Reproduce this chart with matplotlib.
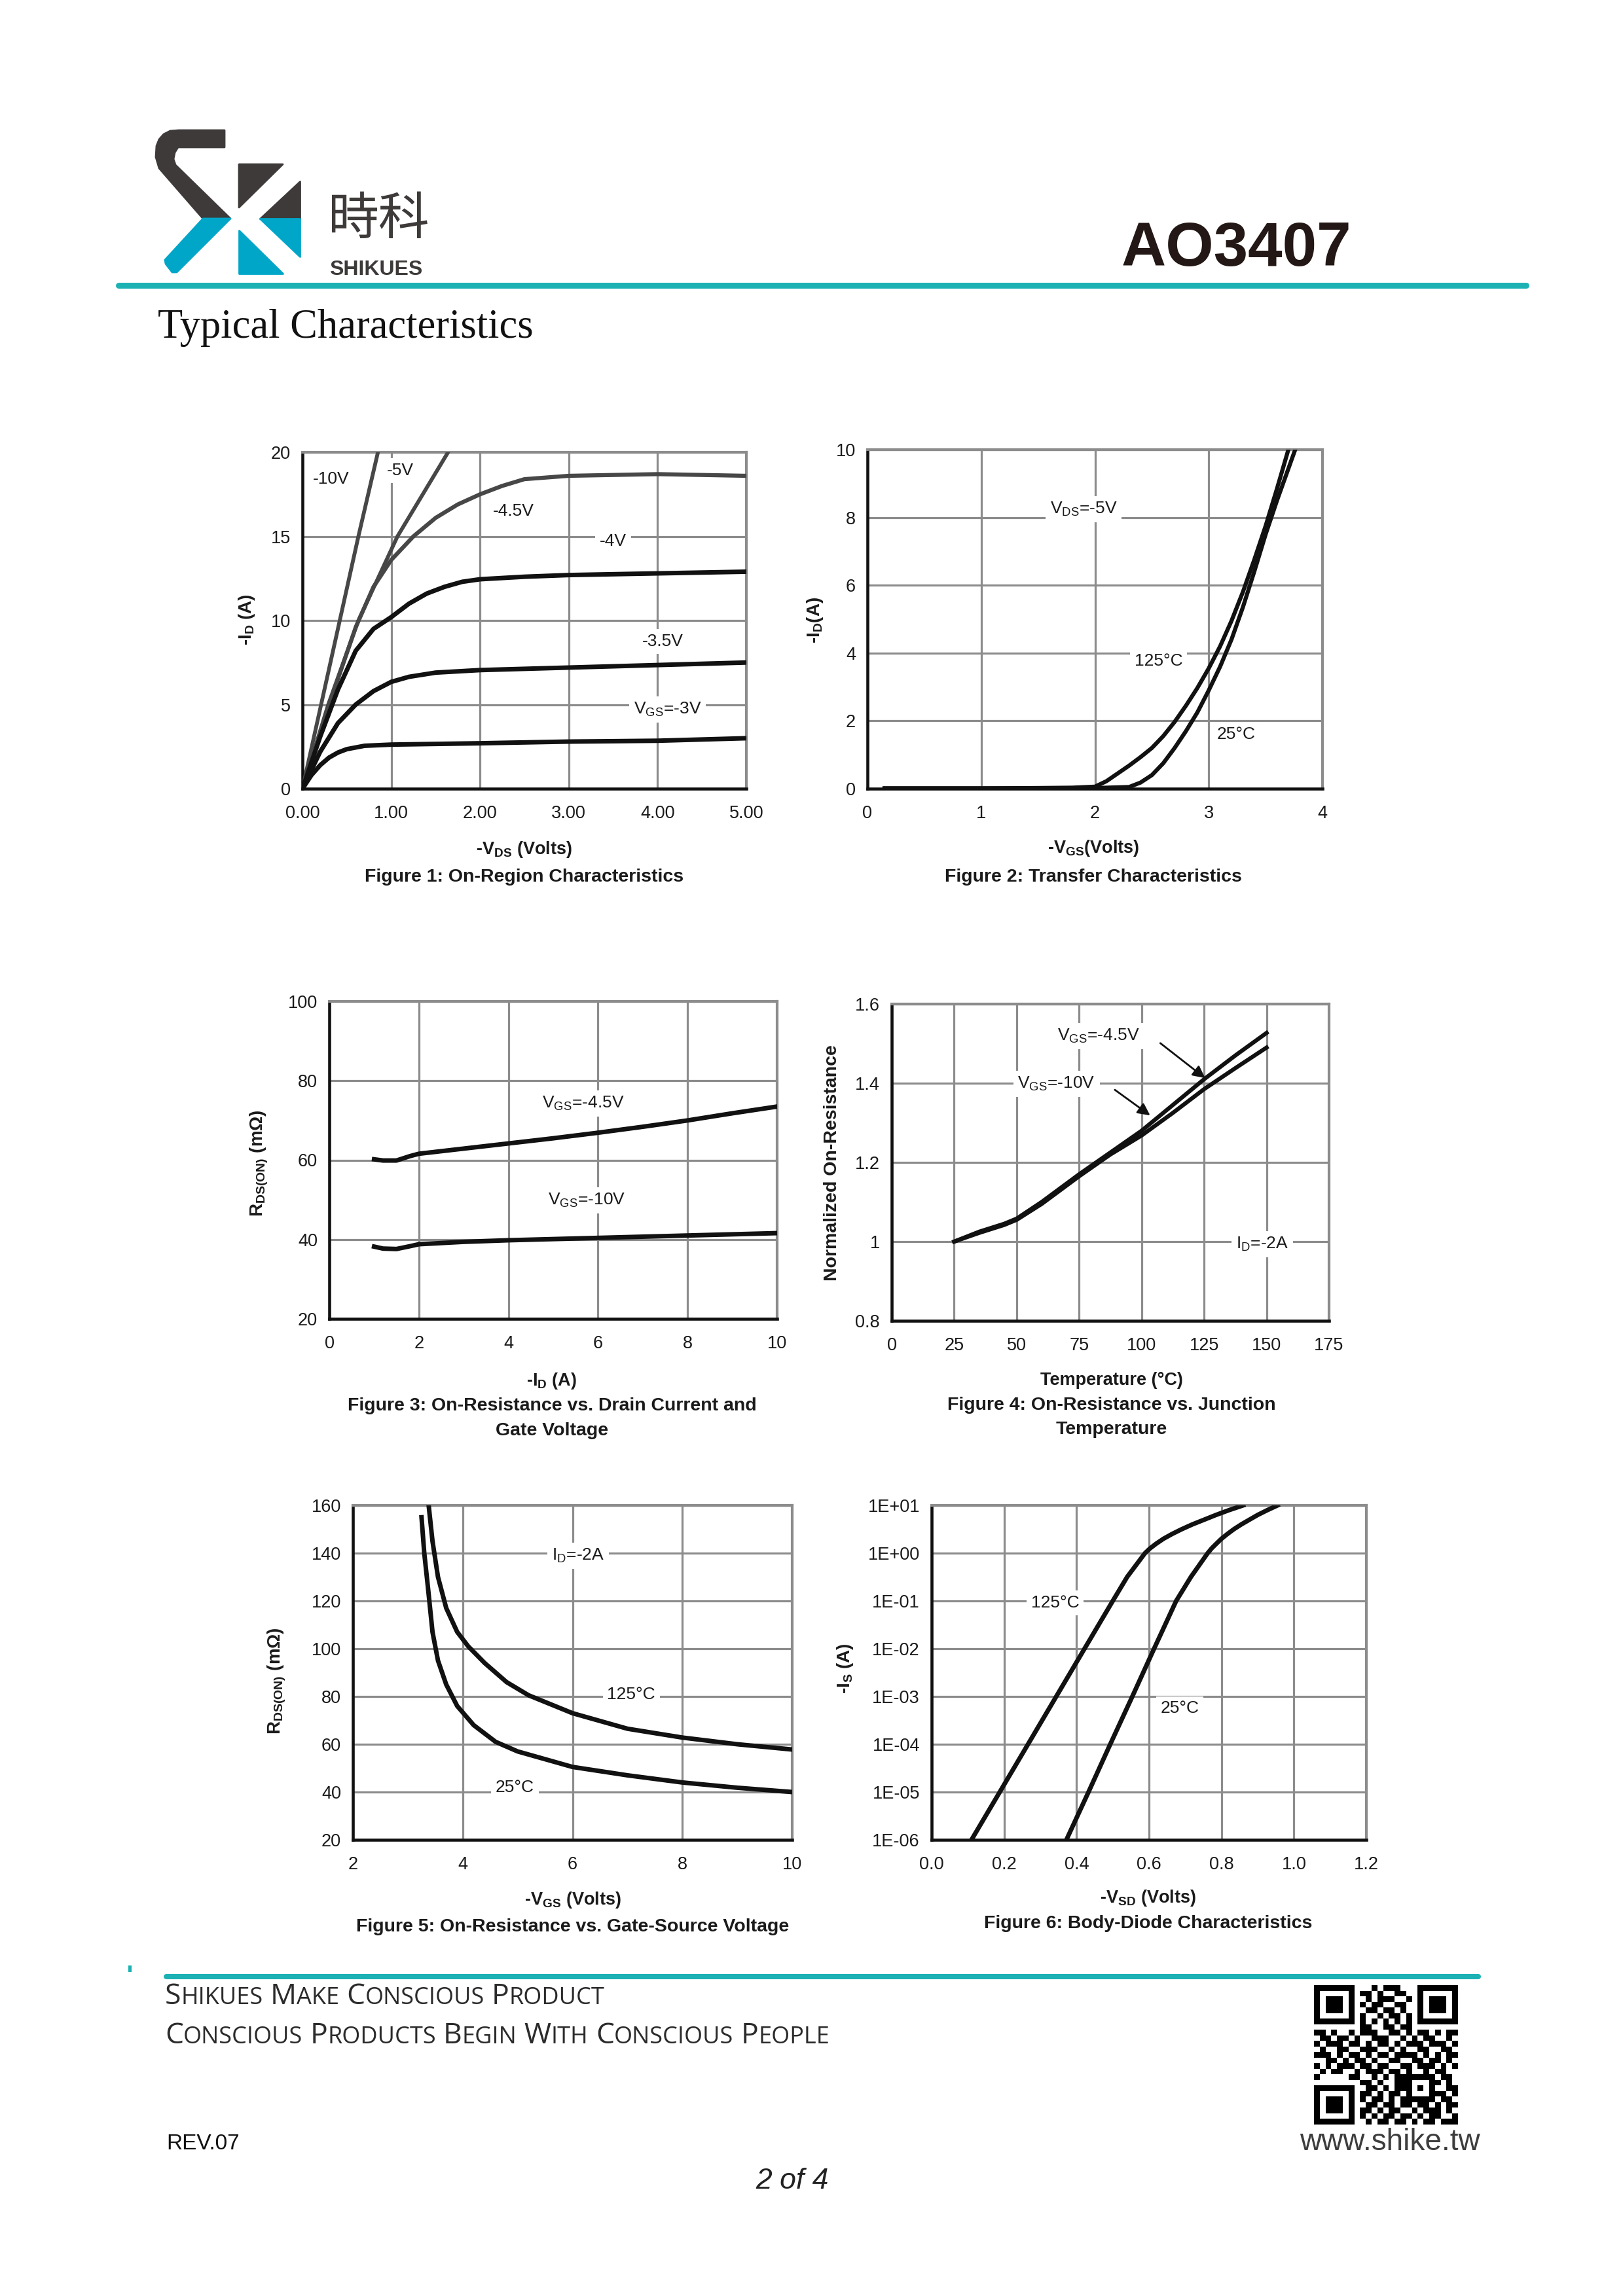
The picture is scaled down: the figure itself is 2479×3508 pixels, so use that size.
import matplotlib
matplotlib.use('Agg')
import matplotlib.pyplot as plt
import numpy as np
from matplotlib.patches import Polygon, Rectangle
from matplotlib.ticker import NullLocator

plt.rcParams['font.family'] = ['Liberation Sans', 'DejaVu Sans']
plt.rcParams['mathtext.fontset'] = 'custom'
plt.rcParams['mathtext.rm'] = 'Liberation Sans'
plt.rcParams['mathtext.bf'] = 'Liberation Sans:bold'
plt.rcParams['mathtext.it'] = 'Liberation Sans:italic'

W, H = 2479, 3508
TEAL = '#1cb2b4'
LOGO_DARK = '#3d3a39'
LOGO_BLUE = '#00a6c8'
GRID = '#8c8c8c'
INK = '#1a1a1a'

# figure 1: on-region characteristics (-Vds, -Id)
f1_10v_x = [0, 0.21, 0.42, 0.63, 0.85]
f1_10v_y = [0, 5, 10, 15, 20]
f1_5v_x = [0, 0.29, 0.63, 1.07, 1.64]
f1_5v_y = [0, 5, 10, 15, 20]
f1_45v_x = [0, 0.3, 0.6, 0.8, 1.0, 1.25, 1.5, 1.75, 2.0, 2.25, 2.5, 3.0, 4.0, 5.0]
f1_45v_y = [0, 5, 9.6, 12, 13.6, 15.0, 16.1, 16.9, 17.5, 18.0, 18.4, 18.6, 18.7, 18.6]
f1_4v_x = [0, 0.2, 0.4, 0.6, 0.8, 1.0, 1.2, 1.4, 1.6, 1.8, 2.0, 2.5, 3.0, 4.0, 5.0]
f1_4v_y = [0, 3.1, 5.9, 8.2, 9.5, 10.2, 11.0, 11.6, 12.0, 12.3, 12.45, 12.6, 12.7, 12.8, 12.9]
f1_35v_x = [0, 0.2, 0.4, 0.6, 0.8, 1.0, 1.2, 1.5, 2.0, 3.0, 4.0, 5.0]
f1_35v_y = [0, 2.2, 3.9, 5.0, 5.8, 6.35, 6.65, 6.9, 7.05, 7.2, 7.35, 7.5]
f1_3v_x = [0, 0.1, 0.2, 0.3, 0.4, 0.5, 0.7, 1.0, 2.0, 3.0, 4.0, 5.0]
f1_3v_y = [0, 0.8, 1.4, 1.85, 2.15, 2.35, 2.55, 2.62, 2.7, 2.8, 2.85, 3.0]

# figure 2: transfer characteristics (-Vgs, -Id)
f2_25_x = [0.15, 0.5, 1.0, 1.5, 2.0, 2.3, 2.4, 2.5, 2.6, 2.7, 2.8, 2.9, 3.0, 3.1, 3.2, 3.3, 3.4, 3.5, 3.6, 3.76]
f2_25_y = [0.01, 0.01, 0.01, 0.01, 0.02, 0.05, 0.18, 0.4, 0.75, 1.2, 1.7, 2.25, 2.9, 3.6, 4.4, 5.35, 6.4, 7.5, 8.5, 10]
f2_125_x = [0.15, 0.5, 1.0, 1.5, 1.8, 2.0, 2.1, 2.2, 2.3, 2.4, 2.5, 2.6, 2.7, 2.8, 2.9, 3.0, 3.1, 3.2, 3.3, 3.4, 3.5, 3.6, 3.7]
f2_125_y = [0.01, 0.01, 0.01, 0.02, 0.03, 0.06, 0.22, 0.45, 0.68, 0.93, 1.2, 1.55, 1.97, 2.45, 2.97, 3.55, 4.2, 4.95, 5.8, 6.75, 7.75, 8.85, 10]

# figure 3: Rds(on) vs drain current
f3_id = [1.0, 1.2, 1.5, 1.8, 2, 3, 4, 5, 6, 7, 8, 9, 10]
f3_45v = [60.2, 59.9, 59.9, 61.0, 61.6, 62.9, 64.2, 65.5, 66.9, 68.4, 70.0, 71.8, 73.5]
f3_10v = [38.2, 37.7, 37.6, 38.3, 38.8, 39.4, 39.8, 40.1, 40.4, 40.7, 41.0, 41.3, 41.6]

# figure 4: normalized Rds(on) vs temperature
f4_temp = [25, 35, 45, 50, 60, 75, 87.5, 100, 112.5, 125, 137.5, 150]
f4_45v = [1.0, 1.025, 1.045, 1.058, 1.10, 1.17, 1.225, 1.28, 1.345, 1.41, 1.47, 1.527]
f4_10v = [1.0, 1.022, 1.042, 1.055, 1.095, 1.165, 1.22, 1.268, 1.325, 1.385, 1.438, 1.49]

# figure 5: Rds(on) vs gate-source voltage
f5_25_v = [3.25, 3.3, 3.37, 3.45, 3.55, 3.7, 3.9, 4.2, 4.6, 5.0, 6.0, 7.0, 8.0, 9.0, 10]
f5_25_r = [155, 140, 125, 107, 95, 85, 76, 68, 61, 57, 50.5, 47, 44, 41.8, 40]
f5_125_v = [3.38, 3.45, 3.55, 3.7, 3.9, 4.1, 4.4, 4.8, 5.2, 6.0, 7.0, 8.0, 9.0, 10]
f5_125_r = [160, 145, 130, 117, 107, 101, 94, 86, 80.5, 73, 66.5, 62.8, 60, 57.8]

# figure 6: body diode (-Vsd, -Is)
f6_is = [1e-6, 1e-5, 1e-4, 1e-3, 1e-2, 1e-1, 0.32, 1, 1.26, 1.58, 2.0, 2.5,
         3.16, 4.0, 5.0, 6.3, 7.9, 10]
f6_125_v = [0.11, 0.188, 0.266, 0.344, 0.422, 0.50, 0.54, 0.589, 0.603, 0.62, 0.64, 0.663,
            0.69, 0.72, 0.752, 0.785, 0.82, 0.86]
f6_25_v = [0.372, 0.433, 0.493, 0.554, 0.614, 0.675, 0.716, 0.762, 0.773, 0.786, 0.80, 0.816,
           0.834, 0.855, 0.877, 0.90, 0.926, 0.955]
f6_yticks = [1e-6, 1e-5, 1e-4, 1e-3, 1e-2, 1e-1, 1, 10]
f6_ylabels = ['1E-06', '1E-05', '1E-04', '1E-03', '1E-02', '1E-01', '1E+00', '1E+01']

# qr code modules (decoration)
qr_rows = [
    '1111111' + '0' + '001011100' + '0' + '1111111',
    '1000001' + '0' + '110100110' + '0' + '1000001',
    '1011101' + '0' + '010111001' + '0' + '1011101',
    '1011101' + '0' + '101100110' + '0' + '1011101',
    '1011101' + '0' + '011011010' + '0' + '1011101',
    '1000001' + '0' + '100101101' + '0' + '1000001',
    '1111111' + '0' + '101010101' + '0' + '1111111',
    '00000000' + '110011011' + '00000000',
    '1101001011100110101101011',
    '0110110100111001010110010',
    '1011101101011010111011101',
    '0100110011100101001100110',
    '1110101101011011110101011',
    '0011010110100110011011010',
    '1010111011011001101110101',
    '0101100101110110100101100',
    '1000001100101011' + '11111' + '0110',
    '00000000' + '11010011' + '10001' + '1010',
    '1111111' + '0' + '01101011' + '10101' + '0011',
    '1000001' + '0' + '11010110' + '10001' + '1101',
    '1011101' + '0' + '10110101' + '11111' + '0110',
    '1011101' + '0' + '01101101101101011',
    '1011101' + '0' + '11010110010111010',
    '1000001' + '0' + '10101101101011001',
    '1111111' + '0' + '01011011010110111',
]

fig = plt.figure(figsize=(W / 100, H / 100), dpi=100)
deco = fig.add_axes([0, 0, 1, 1])
deco.set_xlim(0, W)
deco.set_ylim(H, 0)
deco.axis('off')


def add_chart(l, t, r, b):
    return fig.add_axes([l / W, 1 - b / H, (r - l) / W, (b - t) / H])


def style(ax, xlim, ylim, xticks, xlabels, yticks, ylabels):
    ax.set_xlim(xlim)
    ax.set_ylim(ylim)
    ax.set_xticks(xticks)
    ax.set_xticklabels(xlabels)
    ax.set_yticks(yticks)
    ax.set_yticklabels(ylabels)
    ax.xaxis.set_minor_locator(NullLocator())
    ax.yaxis.set_minor_locator(NullLocator())
    ax.grid(True, color=GRID, lw=2.3)
    ax.set_axisbelow(True)
    for side in ['left', 'bottom']:
        ax.spines[side].set_color('#111111')
        ax.spines[side].set_linewidth(3.3)
    for side in ['top', 'right']:
        ax.spines[side].set_color(GRID)
        ax.spines[side].set_linewidth(3.0)
    ax.tick_params(axis='x', length=0, labelsize=19.5, pad=18, colors=INK)
    ax.tick_params(axis='y', length=0, labelsize=19.5, pad=13, colors=INK)


def label(ax, x, y, s, size=19):
    ax.text(x, y, s, ha='center', va='center', fontsize=size, color=INK, zorder=3,
            bbox=dict(facecolor='white', edgecolor='none', pad=5))


def page_text(x, y, s, size=19.5, weight='bold', **kw):
    deco.text(x, y, s, ha='center', va='center', fontsize=size, fontweight=weight, color=INK, **kw)


def logo_piece(pts, color):
    deco.add_patch(Polygon(pts, closed=True, facecolor=color, edgecolor=color, lw=2, joinstyle='round'))


# ---- header
logo_piece([(343, 199), (273, 199), (260, 200), (250, 205), (243, 213), (239, 223), (238, 240),
            (243, 257), (310, 334), (352, 334), (268, 252), (265, 243), (267, 233), (272, 225),
            (343, 225)], LOGO_DARK)
logo_piece([(310, 334), (352, 334), (270, 416), (263, 416), (253, 403), (252, 397)], LOGO_BLUE)
logo_piece([(365, 251), (432, 251), (365, 317)], LOGO_DARK)
logo_piece([(458, 277), (458, 334), (397, 334)], LOGO_DARK)
logo_piece([(397, 334), (458, 334), (458, 392)], LOGO_BLUE)
logo_piece([(365, 352), (365, 418), (432, 418)], LOGO_BLUE)

deco.text(500, 336, '時科', fontsize=56, family=['Noto Sans CJK SC', 'DejaVu Sans'],
          color=LOGO_DARK, va='center', ha='left')
deco.text(503, 420, 'SHIKUES', fontsize=23, fontweight='bold', color=LOGO_DARK, va='baseline')
deco.text(2064, 406, 'AO3407', ha='right', va='baseline', fontsize=68, fontweight='bold', color='#231815')
deco.plot([181, 2331], [436, 436], color=TEAL, lw=6.5, solid_capstyle='round')
deco.text(241, 516, 'Typical Characteristics', family=['Liberation Serif', 'DejaVu Serif'],
          fontsize=45, va='baseline', color='#111111')

# ---- figure 1
ax1 = add_chart(462, 691, 1140, 1205)
style(ax1, (0, 5), (0, 20), [0, 1, 2, 3, 4, 5], ['0.00', '1.00', '2.00', '3.00', '4.00', '5.00'],
      [0, 5, 10, 15, 20], ['0', '5', '10', '15', '20'])
ax1.plot(f1_10v_x, f1_10v_y, color='#474747', lw=4.2, zorder=4)
ax1.plot(f1_5v_x, f1_5v_y, color='#474747', lw=4.2, zorder=4)
ax1.plot(f1_45v_x, f1_45v_y, color='#474747', lw=4.5, zorder=4)
ax1.plot(f1_4v_x, f1_4v_y, color='#111111', lw=5, zorder=4)
ax1.plot(f1_35v_x, f1_35v_y, color='#111111', lw=5, zorder=4)
ax1.plot(f1_3v_x, f1_3v_y, color='#111111', lw=5, zorder=4)
label(ax1, 0.32, 18.4, '-10V')
label(ax1, 1.10, 18.9, '-5V')
label(ax1, 2.38, 16.5, '-4.5V')
label(ax1, 3.5, 14.7, '-4V')
label(ax1, 4.06, 8.76, '-3.5V')
label(ax1, 4.11, 4.7, r'V$_{\rm GS}$=-3V')
page_text(377, 947, r'-I$_{\bf D}$ (A)', size=20, rotation=90)
page_text(801, 1298, r'-V$_{\bf DS}$ (Volts)')
page_text(801, 1340, 'Figure 1: On-Region Characteristics', size=20.5)

# ---- figure 2
ax2 = add_chart(1325, 687, 2020, 1205)
style(ax2, (0, 4), (0, 10), [0, 1, 2, 3, 4], ['0', '1', '2', '3', '4'],
      [0, 2, 4, 6, 8, 10], ['0', '2', '4', '6', '8', '10'])
ax2.plot(f2_125_x, f2_125_y, color='#111111', lw=4.5, zorder=4)
ax2.plot(f2_25_x, f2_25_y, color='#111111', lw=4.5, zorder=4)
label(ax2, 1.90, 8.25, r'V$_{\rm DS}$=-5V')
label(ax2, 2.56, 3.77, '125°C')
label(ax2, 3.24, 1.61, '25°C')
page_text(1245, 947, r'-I$_{\bf D}$(A)', size=20, rotation=90)
page_text(1670, 1296, r'-V$_{\bf GS}$(Volts)')
page_text(1670, 1340, 'Figure 2: Transfer Characteristics', size=20.5)

# ---- figure 3
ax3 = add_chart(503, 1530, 1187, 2015)
style(ax3, (0, 10), (20, 100), [0, 2, 4, 6, 8, 10], ['0', '2', '4', '6', '8', '10'],
      [20, 40, 60, 80, 100], ['20', '40', '60', '80', '100'])
ax3.plot(f3_id, f3_45v, color='#111111', lw=5, zorder=4)
ax3.plot(f3_id, f3_10v, color='#111111', lw=5, zorder=4)
label(ax3, 5.67, 74.3, r'V$_{\rm GS}$=-4.5V')
label(ax3, 5.75, 49.8, r'V$_{\rm GS}$=-10V')
page_text(396, 1777, r'R$_{\bf DS(ON)}$ (mΩ)', size=20, rotation=90)
page_text(843, 2110, r'-I$_{\bf D}$ (A)')
page_text(843, 2148, 'Figure 3: On-Resistance vs. Drain Current and', size=20.5)
page_text(843, 2186, 'Gate Voltage', size=20.5)

# ---- figure 4
ax4 = add_chart(1362, 1534, 2030, 2018)
style(ax4, (0, 175), (0.8, 1.6), [0, 25, 50, 75, 100, 125, 150, 175],
      ['0', '25', '50', '75', '100', '125', '150', '175'],
      [0.8, 1.0, 1.2, 1.4, 1.6], ['0.8', '1', '1.2', '1.4', '1.6'])
ax4.plot(f4_temp, f4_45v, color='#111111', lw=4.5, zorder=4)
ax4.plot(f4_temp, f4_10v, color='#111111', lw=4.5, zorder=4)
label(ax4, 82.6, 1.519, r'V$_{\rm GS}$=-4.5V')
label(ax4, 65.9, 1.398, r'V$_{\rm GS}$=-10V')
label(ax4, 148.3, 0.994, r'I$_{\rm D}$=-2A')
ax4.annotate('', xy=(126, 1.41), xytext=(106.9, 1.504),
             arrowprops=dict(arrowstyle='-|>', color='#111111', lw=2, mutation_scale=28), zorder=5)
ax4.annotate('', xy=(104, 1.316), xytext=(88.7, 1.386),
             arrowprops=dict(arrowstyle='-|>', color='#111111', lw=2, mutation_scale=28), zorder=5)
page_text(1271, 1777, 'Normalized On-Resistance', size=20.5, rotation=90)
page_text(1698, 2109, 'Temperature (°C)')
page_text(1698, 2147, 'Figure 4: On-Resistance vs. Junction', size=20.5)
page_text(1698, 2184, 'Temperature', size=20.5)

# ---- figure 5
ax5 = add_chart(539, 2300, 1210, 2811)
style(ax5, (2, 10), (20, 160), [2, 4, 6, 8, 10], ['2', '4', '6', '8', '10'],
      [20, 40, 60, 80, 100, 120, 140, 160], ['20', '40', '60', '80', '100', '120', '140', '160'])
ax5.plot(f5_25_v, f5_25_r, color='#111111', lw=5, zorder=4)
ax5.plot(f5_125_v, f5_125_r, color='#111111', lw=5, zorder=4)
label(ax5, 6.1, 139, r'I$_{\rm D}$=-2A')
label(ax5, 7.07, 80.8, '125°C')
label(ax5, 4.95, 41.8, '25°C')
page_text(423, 2568, r'R$_{\bf DS(ON)}$ (mΩ)', size=20, rotation=90)
page_text(875, 2903, r'-V$_{\bf GS}$ (Volts)')
page_text(875, 2944, 'Figure 5: On-Resistance vs. Gate-Source Voltage', size=20.5)

# ---- figure 6
ax6 = add_chart(1423, 2300, 2087, 2811)
ax6.set_yscale('log')
style(ax6, (0, 1.2), (1e-6, 10), [0, 0.2, 0.4, 0.6, 0.8, 1.0, 1.2],
      ['0.0', '0.2', '0.4', '0.6', '0.8', '1.0', '1.2'], f6_yticks, f6_ylabels)
ax6.plot(f6_125_v, f6_is, color='#111111', lw=5, zorder=4)
ax6.plot(f6_25_v, f6_is, color='#111111', lw=5, zorder=4)
label(ax6, 0.341, 0.092, '125°C')
label(ax6, 0.685, 5.6e-4, '25°C')
page_text(1291, 2549, r'-I$_{\bf S}$ (A)', size=20, rotation=90)
page_text(1754, 2900, r'-V$_{\bf SD}$ (Volts)')
page_text(1754, 2939, 'Figure 6: Body-Diode Characteristics', size=20.5)

# ---- footer
deco.add_patch(Rectangle((196, 3003), 5, 10, color=TEAL, lw=0))
deco.plot([254, 2258], [3020, 3020], color=TEAL, lw=5.8, solid_capstyle='round')

renderer = fig.canvas.get_renderer()


def small_caps(x, y, text, big, small):
    cur = x
    for word in text.split(' '):
        t1 = deco.text(cur, y, word[0], fontsize=big, family=['Open Sans', 'DejaVu Sans'],
                       color='#2b2b2b', va='baseline')
        cur += t1.get_window_extent(renderer).width
        t2 = deco.text(cur, y, word[1:].upper(), fontsize=small, family=['Open Sans', 'DejaVu Sans'],
                       color='#2b2b2b', va='baseline')
        cur += t2.get_window_extent(renderer).width + big * 0.35


small_caps(252, 3062, 'Shikues Make Conscious Product', 32, 26)
small_caps(252, 3122, 'Conscious Products Begin With Conscious People', 32, 26)

deco.text(254, 3284, 'REV.07', fontsize=24, va='baseline', color='#111111')
deco.text(1210, 3344, '2 of 4', fontsize=32, style='italic', ha='center', va='baseline', color='#222222')

qr = np.array([[int(c) for c in r[:25].ljust(25, '0')] for r in qr_rows])
deco.imshow(qr, cmap='gray_r', interpolation='nearest', extent=(2007, 2227, 3246, 3033),
            aspect='auto', vmin=0, vmax=1)
deco.set_xlim(0, W)
deco.set_ylim(H, 0)
deco.text(2123, 3285, 'www.shike.tw', fontsize=33, ha='center', va='baseline', color='#3d3d3d')

fig.savefig('out.png', dpi=100, facecolor='white')
